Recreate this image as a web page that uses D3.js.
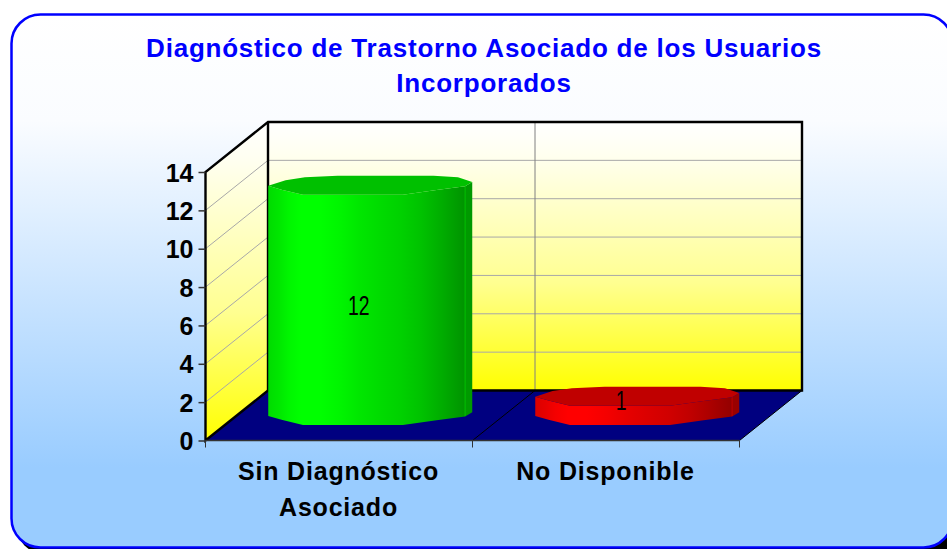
<!DOCTYPE html>
<html>
<head>
<meta charset="utf-8">
<script src="https://cdn.jsdelivr.net/npm/d3@7"></script>
<style>
  html, body { margin: 0; padding: 0; background: #fff; overflow: hidden; }
  svg { display: block; }
  text { font-family: "Liberation Sans", Arial, sans-serif; }
  .label { font-weight: bold; font-size: 25px; fill: #000; }
  .axis path { display: none; }
</style>
</head>
<body>
<script>
// chart values
const titleLines = ['Diagnóstico de Trastorno Asociado de los Usuarios', 'Incorporados']
const categories = ['Sin Diagnóstico Asociado', 'No Disponible']
const categoryLines = [['Sin Diagnóstico', 'Asociado'], ['No Disponible']]
const values = [12, 1]
const yTicks = [0, 2, 4, 6, 8, 10, 12, 14]
const bodyColors = ['#00ff00', '#ff0000']
const capColors = ['#00c000', '#c00000']

const width = 947
const height = 549
const depthX = 62.5
const depthY = -50

// outline of the cylinder end, in units of its radii. it is not a clean ellipse in the original
const facetTop = [[-1, 0.05], [-0.83, -0.55], [-0.64, -0.85], [-0.32, -1], [0.62, -1], [0.86, -0.85], [1, -0.35]]
const facetBottom = [[0.93, 0.1], [0.65, 0.5], [0.32, 1], [-0.66, 1], [-0.87, 0.45]]
// shading across the body, brightness along the width
const shade = [[0, 0.86], [0.05, 0.9], [0.1, 0.96], [0.16, 1], [0.25, 1], [0.35, 0.96], [0.45, 0.9],
               [0.55, 0.86], [0.65, 0.82], [0.75, 0.76], [0.85, 0.68], [0.96, 0.58], [0.965, 0.75],
               [0.97, 0.6], [1, 0.6]]

const yScale = d3.scaleLinear().domain([0, 14]).range([440.5, 172])
const xScale = d3.scaleBand().domain(categories).range([205.5, 739.5])

const svg = d3.select('body').append('svg').attr('width', width).attr('height', height)
const defs = svg.append('defs')

let addGradient = (id, x2, y2, stops) => {
    let g = defs.append('linearGradient').attr('id', id)
        .attr('x1', 0).attr('y1', 0).attr('x2', x2).attr('y2', y2)
    stops.forEach(s => {
        g.append('stop').attr('offset', s[0]).attr('stop-color', s[1])
    })
}

addGradient('panelFill', 0, 1, [[0, '#ffffff'], [0.2, '#fafcff'], [0.85, '#99ccff']])
addGradient('wallFill', 0, 1, [[0, '#ffffff'], [0.12, '#fffff0'], [0.6, '#ffff90'], [1, '#ffff00']])

bodyColors.forEach((c, i) => {
    let base = d3.rgb(c)
    let stops = shade.map(s => [s[0], d3.rgb(base.r * s[1], base.g * s[1], base.b * s[1]).formatHex()])
    addGradient('bodyFill' + i, 1, 0, stops)
})

// panel and its shadow
svg.append('rect').attr('x', 16).attr('y', 60).attr('width', 960).attr('height', 494)
    .attr('rx', 29).attr('fill', '#000')
svg.append('rect').attr('x', 11.5).attr('y', 14.5).attr('width', 941).attr('height', 533)
    .attr('rx', 29).attr('fill', 'url(#panelFill)').attr('stroke', '#0000ff').attr('stroke-width', 2.5)

// title
svg.selectAll('.title').data(titleLines).enter().append('text')
    .attr('class', 'title')
    .attr('x', 484).attr('y', (d, i) => 56.5 + i * 35.5)
    .attr('text-anchor', 'middle')
    .attr('font-size', 26).attr('font-weight', 'bold').attr('fill', '#0000ff')
    .style('letter-spacing', '0.78px')
    .text(d => d)

// walls and floor
let left = xScale.range()[0]
let right = xScale.range()[1]
let y0 = yScale(0)
let yTop = yScale(14)
let poly = pts => 'M' + pts.map(p => p.join(',')).join('L') + 'Z'

svg.append('path').attr('d', poly([[left, y0], [left, yTop], [left + depthX, yTop + depthY], [left + depthX, y0 + depthY]]))
    .attr('fill', 'url(#wallFill)')
svg.append('path').attr('d', poly([[left + depthX, y0 + depthY], [left + depthX, yTop + depthY], [right + depthX, yTop + depthY], [right + depthX, y0 + depthY]]))
    .attr('fill', 'url(#wallFill)')
svg.append('path').attr('d', poly([[left, y0], [right, y0], [right + depthX, y0 + depthY], [left + depthX, y0 + depthY]]))
    .attr('fill', '#000080')

// grid lines
yTicks.filter(d => d > 0 && d < 14).forEach(d => {
    svg.append('path')
        .attr('d', 'M' + left + ',' + yScale(d) + 'L' + (left + depthX) + ',' + (yScale(d) + depthY) + 'L' + (right + depthX) + ',' + (yScale(d) + depthY))
        .attr('fill', 'none').attr('stroke', '#a8a8a8').attr('stroke-width', 1)
})

// divider between the categories
let mid = xScale(categories[1])
svg.append('line').attr('x1', mid).attr('y1', y0).attr('x2', mid + depthX).attr('y2', y0 + depthY)
    .attr('stroke', '#000').attr('stroke-width', 1)
svg.append('line').attr('x1', mid + depthX).attr('y1', y0 + depthY).attr('x2', mid + depthX).attr('y2', yTop + depthY)
    .attr('stroke', '#808080').attr('stroke-width', 1)

// wall outlines
svg.append('path')
    .attr('d', poly([[left, y0], [left, yTop], [left + depthX, yTop + depthY], [right + depthX, yTop + depthY], [right + depthX, y0 + depthY], [left + depthX, y0 + depthY]]))
    .attr('fill', 'none').attr('stroke', '#000').attr('stroke-width', 2.4)
svg.append('line').attr('x1', left + depthX).attr('y1', yTop + depthY).attr('x2', left + depthX).attr('y2', y0 + depthY)
    .attr('stroke', '#000').attr('stroke-width', 2.4)
svg.append('line').attr('x1', right).attr('y1', y0).attr('x2', right + depthX).attr('y2', y0 + depthY)
    .attr('stroke', '#000').attr('stroke-width', 1)

// cylinders
let rx = xScale.bandwidth() * 0.382
let ry = 9.5
values.forEach((v, i) => {
    let cx = xScale(categories[i]) + xScale.bandwidth() / 2 + depthX / 2
    let base = y0 + depthY / 2
    let top = base - (y0 - yScale(v))

    let onEnd = (p, cy) => [cx + p[0] * rx, cy + p[1] * ry]

    // side: top front edge then the bottom edge back again
    let topFront = [[1, -0.35]].concat(facetBottom, [[-1, 0.05]])
    let side = topFront.map(p => onEnd(p, top)).concat(topFront.slice().reverse().map(p => onEnd(p, base)))
    svg.append('path').attr('d', poly(side)).attr('fill', 'url(#bodyFill' + i + ')')

    let cap = facetTop.concat(facetBottom).map(p => onEnd(p, top))
    svg.append('path').attr('d', poly(cap)).attr('fill', capColors[i])

    // value labels are squeezed sideways in the original
    let labelX = cx - (i == 0 ? 11.5 : 16)
    let labelY = i == 0 ? 315 : top + 14
    svg.append('text')
        .attr('transform', 'translate(' + labelX + ',' + labelY + ') scale(0.72,1)')
        .attr('text-anchor', 'middle')
        .attr('font-size', 27).attr('fill', '#000')
        .text(v)
})

// axes
let yAxis = d3.axisLeft(yScale).tickValues(yTicks).tickSize(7).tickPadding(5)
svg.append('g').attr('class', 'axis').attr('transform', 'translate(' + left + ',0)').call(yAxis)
    .selectAll('text').attr('class', 'label').attr('dy', '0.36em')
svg.selectAll('.axis .tick line').attr('stroke', '#333').attr('stroke-width', 1.5)

let xAxis = d3.axisBottom(xScale).tickSize(0).tickPadding(0).tickFormat('')
let xg = svg.append('g').attr('class', 'axis').attr('transform', 'translate(0,' + y0 + ')').call(xAxis)
xg.selectAll('.tick text').remove()

xg.append('line').attr('x1', left).attr('x2', right).attr('stroke', '#333').attr('stroke-width', 1.5)
xScale.domain().concat('end').forEach((d, i) => {
    let x = d == 'end' ? right : xScale(d)
    xg.append('line').attr('x1', x).attr('x2', x).attr('y1', 0).attr('y2', 7)
        .attr('stroke', '#333').attr('stroke-width', 1)
})

categoryLines.forEach((lines, i) => {
    lines.forEach((t, j) => {
        xg.append('text').attr('class', 'label')
            .attr('x', xScale(categories[i]) + xScale.bandwidth() / 2 - 0.5)
            .attr('y', 39.5 + j * 36)
            .attr('text-anchor', 'middle')
            .style('letter-spacing', '0.8px')
            .text(t)
    })
})
</script>
</body>
</html>
